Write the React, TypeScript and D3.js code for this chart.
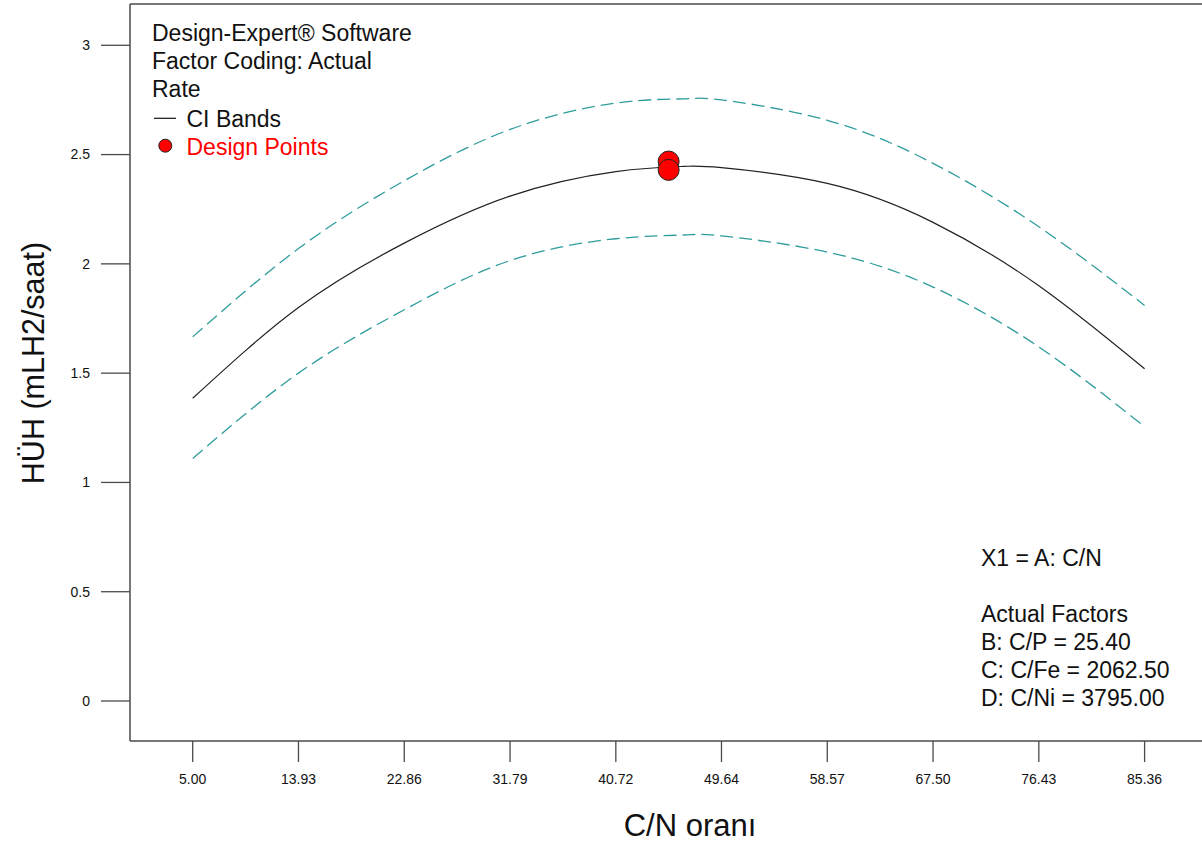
import React from "react";
import * as d3 from "d3";

// ---- Data ----
const xTicks = [5.0, 13.93, 22.86, 31.79, 40.72, 49.64, 58.57, 67.5, 76.43, 85.36];
const xTickLabels = ["5.00", "13.93", "22.86", "31.79", "40.72", "49.64", "58.57", "67.50", "76.43", "85.36"];
const yTicks = [0, 0.5, 1, 1.5, 2, 2.5, 3];
const yTickLabels = ["0", "0.5", "1", "1.5", "2", "2.5", "3"];

const curveX = [5.0, 13.93, 22.86, 31.79, 40.72, 46.5, 49.64, 58.57, 67.5, 76.43, 85.36];
const meanY = [1.385, 1.8, 2.095, 2.31, 2.422, 2.446, 2.44, 2.368, 2.19, 1.9, 1.52];
const upperY = [1.666, 2.07, 2.38, 2.615, 2.736, 2.755, 2.75, 2.657, 2.46, 2.17, 1.81];
const lowerY = [1.11, 1.5, 1.79, 2.015, 2.115, 2.132, 2.128, 2.054, 1.894, 1.62, 1.255];

const pointX = [45.18, 45.18];
const pointY = [2.468, 2.43];

const legendLines = ["Design-Expert® Software", "Factor Coding: Actual", "Rate"];
const annotationLines = ["X1 = A: C/N", "", "Actual Factors", "B: C/P = 25.40", "C: C/Fe = 2062.50", "D: C/Ni = 3795.00"];

const W = 1202;
const H = 846;
const FONT = "'Liberation Sans', Arial, sans-serif";

export default function App() {
  const x = d3.scaleLinear().domain([5, 85.36]).range([192.7, 1144.6]);
  const y = d3.scaleLinear().domain([0, 3]).range([701, 45.3]);

  const plotLeft = 130;
  const plotTop = 4;
  const plotBottom = 741;
  const plotRight = W;

  const line = (vals: number[]) =>
    d3
      .line<number>()
      .x((_, i) => x(curveX[i]))
      .y((v) => y(v))
      .curve(d3.curveNatural)(vals) || "";

  const axisColor = "#4a4a4a";
  const teal = "#2f9c9c";

  return (
    <svg
      width={W}
      height={H}
      style={{ position: "absolute", left: 0, top: 0, background: "#fff" }}
      fontFamily={FONT}
    >
      <rect x={0} y={0} width={W} height={H} fill="#fff" />
      {/* frame */}
      <line x1={plotLeft} y1={plotTop} x2={plotRight} y2={plotTop} stroke={axisColor} strokeWidth={1.5} />
      <line x1={plotLeft} y1={plotTop} x2={plotLeft} y2={plotBottom} stroke={axisColor} strokeWidth={1.5} />
      <line x1={plotLeft} y1={plotBottom} x2={plotRight} y2={plotBottom} stroke={axisColor} strokeWidth={1.5} />

      {/* y ticks */}
      {yTicks.map((t, i) => (
        <g key={"y" + i}>
          <line x1={101} x2={plotLeft} y1={y(t)} y2={y(t)} stroke={axisColor} strokeWidth={1.3} />
          <text x={90} y={y(t)} dy="0.35em" textAnchor="end" fontSize={14} fill="#111">
            {yTickLabels[i]}
          </text>
        </g>
      ))}

      {/* x ticks */}
      {xTicks.map((t, i) => (
        <g key={"x" + i}>
          <line x1={x(t)} x2={x(t)} y1={plotBottom} y2={762} stroke={axisColor} strokeWidth={1.3} />
          <text x={x(t)} y={784} textAnchor="middle" fontSize={14} fill="#111">
            {xTickLabels[i]}
          </text>
        </g>
      ))}

      {/* axis titles */}
      <text x={690} y={836} textAnchor="middle" fontSize={31} fill="#111">
        C/N oranı
      </text>
      <text
        transform={`translate(44, 363) rotate(-90)`}
        textAnchor="middle"
        fontSize={30.5}
        fill="#111"
      >
        HÜH (mLH2/saat)
      </text>

      {/* CI bands */}
      <path d={line(upperY)} fill="none" stroke={teal} strokeWidth={1.3} strokeDasharray="13 6" />
      <path d={line(lowerY)} fill="none" stroke={teal} strokeWidth={1.3} strokeDasharray="13 6" />
      {/* prediction */}
      <path d={line(meanY)} fill="none" stroke="#222" strokeWidth={1.2} />

      {/* design points */}
      {pointX.map((px, i) => (
        <circle key={"p" + i} cx={x(px)} cy={y(pointY[i])} r={10.5} fill="#ff0000" stroke="#222" strokeWidth={1} />
      ))}

      {/* legend */}
      {legendLines.map((s, i) => (
        <text key={"l" + i} x={152} y={40.5 + i * 28} fontSize={23} fill="#111">
          {s}
        </text>
      ))}
      <line x1={154} x2={176} y1={118.3} y2={118.3} stroke="#111" strokeWidth={1.2} />
      <text x={186.5} y={126.5} fontSize={23} fill="#111">
        CI Bands
      </text>
      <circle cx={165.3} cy={145.7} r={6.5} fill="#ff0000" stroke="#222" strokeWidth={1} />
      <text x={186.5} y={154.5} fontSize={23} fill="#ff0000">
        Design Points
      </text>

      {/* annotation */}
      {annotationLines.map((s, i) => (
        <text key={"a" + i} x={981} y={566 + i * 28} fontSize={23} fill="#111">
          {s}
        </text>
      ))}
    </svg>
  );
}
